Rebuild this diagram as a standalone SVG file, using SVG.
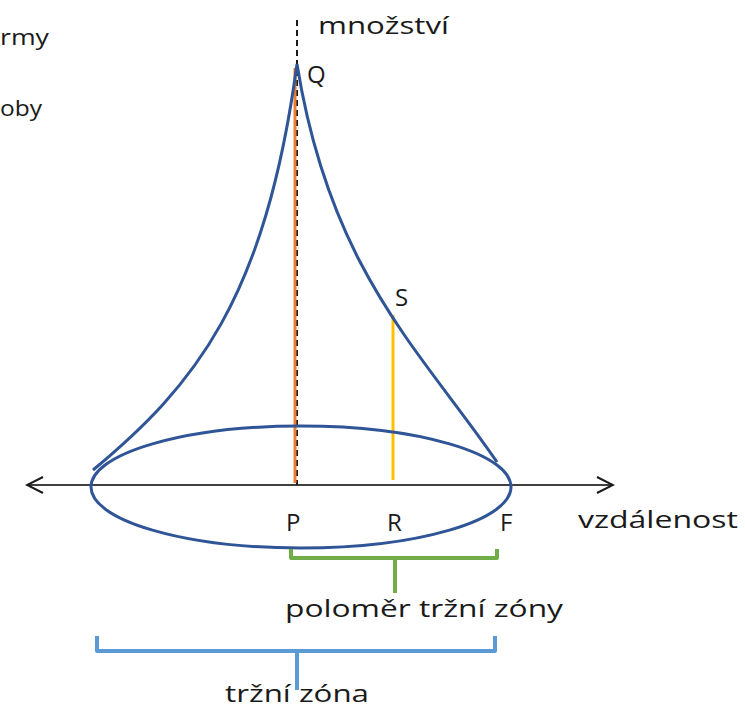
<svg xmlns="http://www.w3.org/2000/svg" width="745" height="711" viewBox="0 0 745 711">
<style>
text{font-family:"Open Sans","Liberation Sans",sans-serif;fill:#1a1a1a}
.lbl{font-size:24px}
.cone{fill:none;stroke:#2F5597;stroke-width:3}
.axis{fill:none;stroke:#404040;stroke-width:2}
.br{fill:none;stroke-width:4;stroke-linejoin:round}
</style>
<defs>
<marker id="open" viewBox="0 0 20 20" refX="18" refY="10" markerWidth="20" markerHeight="20" markerUnits="userSpaceOnUse" orient="auto-start-reverse">
<path d="M2,2 L18,10 L2,18" fill="none" stroke="#1a1a1a" stroke-width="2"/>
</marker>
</defs>
<rect width="745" height="711" fill="#fff"/>
<g id="cropped-text">
<text x="0" y="45" font-size="22" textLength="49" lengthAdjust="spacingAndGlyphs">rmy</text>
<text x="0" y="116" font-size="22" textLength="42" lengthAdjust="spacingAndGlyphs">oby</text>
</g>
<g id="connectors">
<line class="axis" x1="27" y1="485" x2="613" y2="485" marker-start="url(#open)" marker-end="url(#open)"/>
<line x1="297" y1="20" x2="297" y2="485" stroke="#1a1a1a" stroke-width="2" stroke-dasharray="6,4"/>
<line x1="295" y1="68" x2="295" y2="483" stroke="#ED7D31" stroke-width="3"/>
<line x1="393" y1="315" x2="393" y2="480" stroke="#FFC000" stroke-width="3"/>
</g>
<g id="cone">
<path class="cone" d="M93,470 C195,385 265,300 297,64 C330,270 420,350 497,462"/>
<ellipse class="cone" cx="301" cy="487" rx="210" ry="61"/>
</g>
<g id="labels">
<text x="318" y="34" font-size="24" textLength="131" lengthAdjust="spacingAndGlyphs">množství</text>
<text class="lbl" x="307" y="83">Q</text>
<text class="lbl" x="395" y="306">S</text>
<text class="lbl" x="286" y="531">P</text>
<text class="lbl" x="387" y="531">R</text>
<text class="lbl" x="500" y="531">F</text>
<text x="578" y="528" font-size="24" textLength="160" lengthAdjust="spacingAndGlyphs">vzdálenost</text>
</g>
<g id="radius-bracket">
<path class="br" stroke="#70AD47" d="M291,549 V558 H497 V549 M395,558 V593"/>
<text x="285" y="617" font-size="24" textLength="278" lengthAdjust="spacingAndGlyphs">poloměr tržní zóny</text>
</g>
<g id="zone-bracket">
<path class="br" stroke="#5B9BD5" d="M97,636 V651 H495 V636 M297,651 V690"/>
<text x="225" y="702" font-size="24" textLength="144" lengthAdjust="spacingAndGlyphs">tržní zóna</text>
</g>
</svg>
